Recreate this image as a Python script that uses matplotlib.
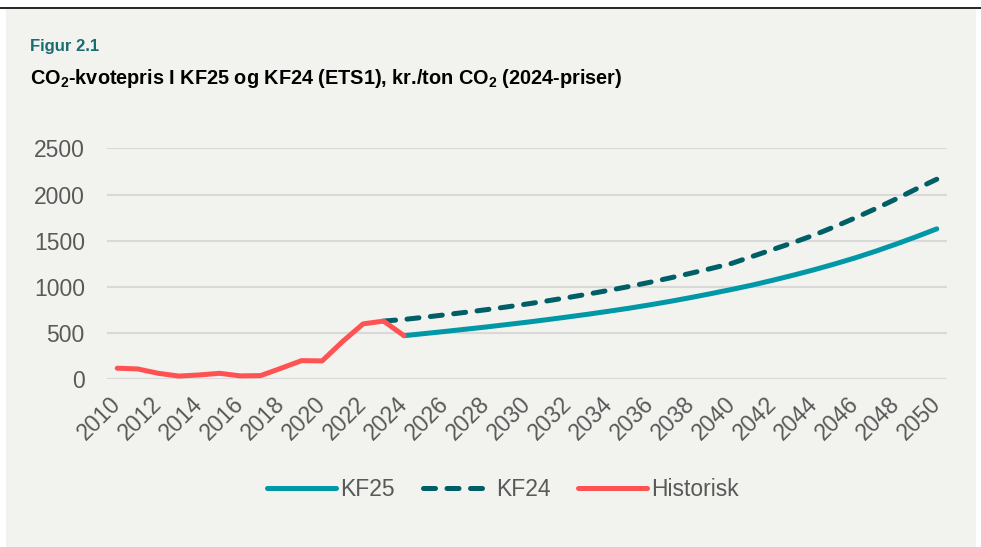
import matplotlib
matplotlib.use("Agg")
import matplotlib.pyplot as plt
from matplotlib.patches import Rectangle
from matplotlib.lines import Line2D

plt.rcParams["font.family"] = ["Liberation Sans", "DejaVu Sans"]
plt.rcParams["mathtext.fontset"] = "custom"
plt.rcParams["mathtext.bf"] = "Liberation Sans:bold"
plt.rcParams["mathtext.rm"] = "Liberation Sans"

# data
hist_years = list(range(2010, 2025))
hist_vals = [120, 112, 65, 35, 47, 65, 37, 40, 120, 202, 199, 409, 600, 630, 472]

kf25_years = list(range(2024, 2051))
kf25_vals = [472, 495, 518, 542, 566, 592, 618, 646, 675, 705, 737, 770, 806,
             844, 885, 928, 973, 1020, 1072, 1127, 1185, 1247, 1313, 1385,
             1462, 1543, 1628]

kf24_years = list(range(2023, 2051))
kf24_vals = [630, 648, 672, 698, 725, 753, 783, 815, 849, 885, 923, 963, 1005,
             1050, 1098, 1148, 1200, 1255, 1330, 1405, 1480, 1560, 1650, 1745,
             1845, 1950, 2060, 2165]

xticks = list(range(2010, 2051, 2))
yticks = [0, 500, 1000, 1500, 2000, 2500]

C_KF25 = "#0098a6"
C_KF24 = "#005f66"
C_HIST = "#ff5252"
BG = "#f2f2ee"
TXT = "#595959"

fig = plt.figure(figsize=(9.81, 5.47), dpi=100)
W, H = 981, 547

# panel + top rule
fig.patches.append(Rectangle((6 / W, 0), 970 / W, 538 / H, transform=fig.transFigure,
                             facecolor=BG, edgecolor="none", zorder=-5))
fig.add_artist(Line2D([0, 1], [1 - 8 / H, 1 - 8 / H], transform=fig.transFigure,
                      color="black", linewidth=1.2))

fig.text(30 / W, 1 - 47 / H, "Figur 2.1", color="#176d72", fontsize=12,
         fontweight="bold", va="center", ha="left")
fig.text(30 / W, 1 - 79 / H,
         r"CO$_{\mathbf{2}}$-kvotepris I KF25 og KF24 (ETS1), kr./ton CO$_{\mathbf{2}}$ (2024-priser)",
         color="black", fontsize=14.3, fontweight="bold", va="center", ha="left")

ax = fig.add_axes([107 / W, 1 - 379.3 / H, 840 / W, 231 / H])
ax.set_facecolor("none")

ax.plot(kf25_years, kf25_vals, color=C_KF25, linewidth=3.6,
        solid_capstyle="round", label="KF25", zorder=3)
ax.plot(kf24_years, kf24_vals, color=C_KF24, linewidth=3.6, linestyle=(0, (2.4, 2.3)),
        dash_capstyle="round", label="KF24", zorder=3)
ax.plot(hist_years, hist_vals, color=C_HIST, linewidth=3.6,
        solid_capstyle="round", solid_joinstyle="round", label="Historisk", zorder=4)

ax.set_xlim(2009.5, 2050.5)
ax.set_ylim(0, 2500)
ax.set_xticks(xticks)
ax.set_yticks(yticks)
ax.set_xticklabels([str(x) for x in xticks], rotation=45, ha="right", va="center",
                   rotation_mode="anchor")
ax.tick_params(axis="both", length=0, labelsize=16.5, labelcolor=TXT)
ax.tick_params(axis="y", pad=16)
ax.tick_params(axis="x", pad=15)
ax.grid(axis="y", color="#d9d9d9", linewidth=1.5)
ax.set_axisbelow(True)
for s in ax.spines.values():
    s.set_visible(False)

leg = fig.legend(loc="center", bbox_to_anchor=(503 / W, 1 - 490 / H), ncol=3,
                 frameon=False, fontsize=16.5, handlelength=3, handletextpad=0.2,
                 columnspacing=1.2)
for t in leg.get_texts():
    t.set_color(TXT)

fig.savefig("out.png", dpi=100, facecolor="white")
